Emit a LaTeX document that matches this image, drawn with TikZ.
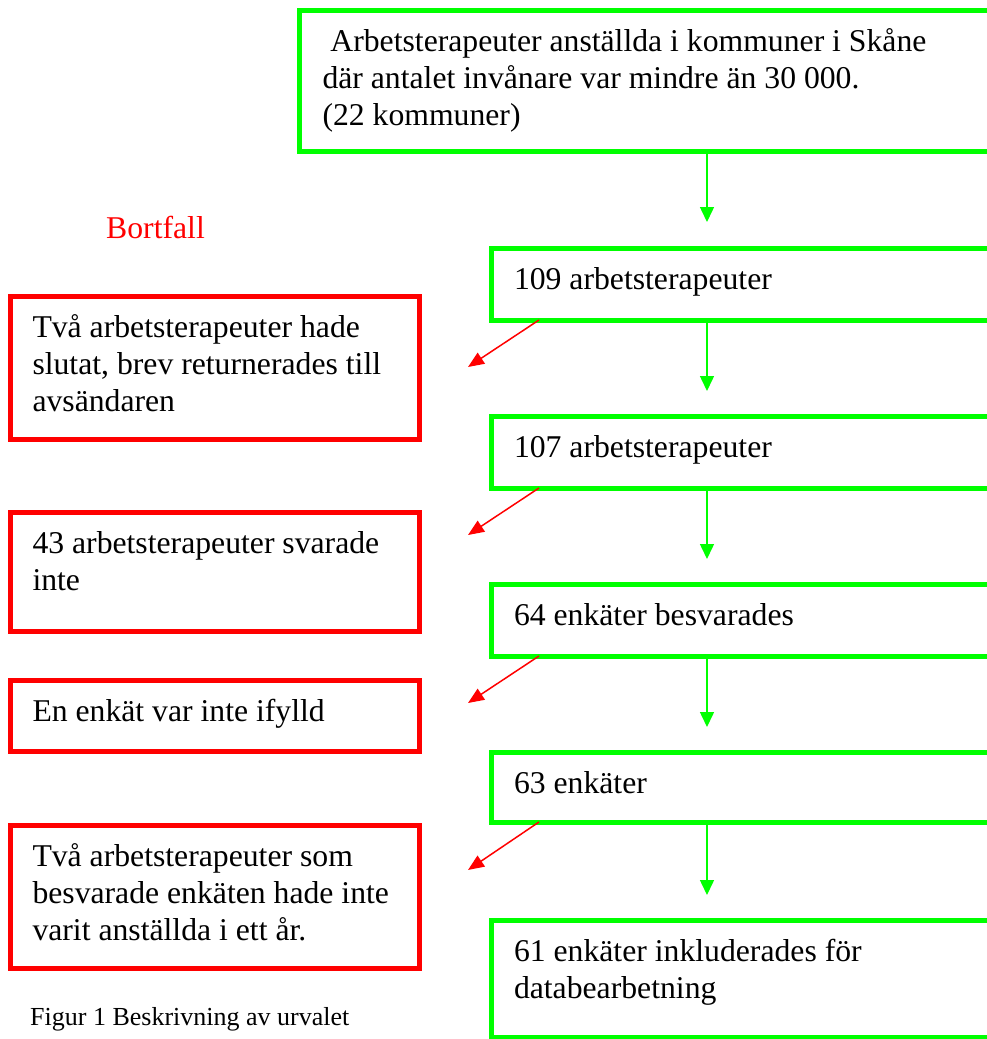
\documentclass[tikz,border=0pt]{standalone}
\usepackage{fontspec}
\setmainfont{Liberation Serif}
\usetikzlibrary{arrows.meta}
\definecolor{kgreen}{RGB}{0,255,0}
\definecolor{kred}{RGB}{255,0,0}
\tikzset{
  gbox/.style={draw=kgreen, line width=5pt, anchor=north west, align=flush left,
               inner xsep=23pt, inner ysep=0pt, outer sep=0pt, text height=41pt},
  rbox/.style={gbox, draw=kred, inner xsep=22pt, text width=365pt},
  garr/.style={kgreen, line width=1.5pt, -{Triangle[length=15pt,width=14pt]}},
  rarr/.style={kred, line width=1.5pt, -{Triangle[length=16pt,width=13pt]}}
}
\begin{document}
\begin{tikzpicture}[x=1pt, y=-1pt, font=\fontsize{31.7}{37}\selectfont]
      \useasboundingbox (0,0) rectangle (987,1039);
      \node [gbox, text width=665pt, text depth=100pt] (start) at (299.5,10)
            {\ Arbetsterapeuter anställda i kommuner i Skåne\\där antalet invånare var mindre än 30 000.\\(22 kommuner)};
      \node [gbox, text width=474pt, text depth=31pt] (n109) at (491,248) {109 arbetsterapeuter};
      \node [gbox, text width=474pt, text depth=31pt] (n107) at (491,416) {107 arbetsterapeuter};
      \node [gbox, text width=474pt, text depth=31pt] (n64) at (491,584) {64 enkäter besvarades};
      \node [gbox, text width=474pt, text depth=29pt] (n63) at (491,752) {63 enkäter};
      \node [gbox, text width=474pt, text depth=76pt] (n61) at (491,920) {61 enkäter inkluderades för\\databearbetning};
      \node [text=kred, anchor=base west, inner sep=0pt] (bortfall) at (106,238) {Bortfall};
      \node [rbox, text depth=102pt] (r1) at (10.5,296.5) {Två arbetsterapeuter hade\\slutat, brev returnerades till\\avsändaren};
      \node [rbox, text depth=78pt] (r2) at (10.5,512) {43 arbetsterapeuter svarade\\inte};
      \node [rbox, text depth=30pt] (r3) at (10.5,680) {En enkät var inte ifylld};
      \node [rbox, text depth=102pt] (r4) at (10.5,825) {Två arbetsterapeuter som\\besvarade enkäten hade inte\\varit anställda i ett år.};
      \node [anchor=base west, inner sep=0pt, font=\fontsize{26}{30}\selectfont] (caption) at (30,1025)
            {Figur 1 Beskrivning av urvalet};
      % arrow tips
      \coordinate (g1) at (707,222);
      \coordinate (g2) at (707,391);
      \coordinate (g3) at (707,559);
      \coordinate (g4) at (707,727);
      \coordinate (g5) at (707,895);
      \coordinate (d1) at (468,367);
      \coordinate (d2) at (468,535);
      \coordinate (d3) at (468,703);
      \coordinate (d4) at (468,870);
      \path [garr] (g1 |- start.south) edge (g1)
                   (g2 |- n109.south) edge (g2)
                   (g3 |- n107.south) edge (g3)
                   (g4 |- n64.south) edge (g4)
                   (g5 |- n63.south) edge (g5);
      \path [rarr] ([xshift=48pt]n109.south west) edge (d1)
                   ([xshift=48pt]n107.south west) edge (d2)
                   ([xshift=48pt]n64.south west) edge (d3)
                   ([xshift=48pt]n63.south west) edge (d4);
\end{tikzpicture}
\end{document}
